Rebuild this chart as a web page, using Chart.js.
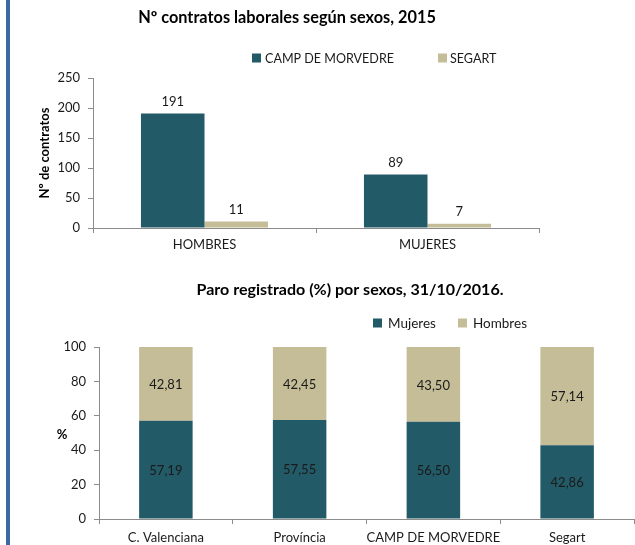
<!DOCTYPE html>
<html>
<head>
<meta charset="utf-8">
<script src="https://cdn.jsdelivr.net/npm/chart.js@4.4.1/dist/chart.umd.min.js"></script>
<style>
  html, body { margin:0; padding:0; background:#ffffff; }
  body { width:635px; height:545px; position:relative; overflow:hidden; }
  #bar { position:absolute; left:6px; top:0; width:4px; height:545px; background:#3c67a3; }
  #c1 { position:absolute; left:0; top:0; }
  #c2 { position:absolute; left:0; top:270px; }
</style>
</head>
<body>
<div id="bar"></div>
<canvas id="c1" width="635" height="270"></canvas>
<canvas id="c2" width="635" height="275"></canvas>
<script>
// ---- Data: chart 1 ----
const topTitle = 'Nº contratos laborales según sexos, 2015';
const topCategories = ['HOMBRES', 'MUJERES'];
const topSeriesNames = ['CAMP DE MORVEDRE', 'SEGART'];
const topCamp = [191, 89];
const topSegart = [11, 7];
const topYTicks = [0, 50, 100, 150, 200, 250];
const topYTitle = 'Nº de contratos';

// ---- Data: chart 2 ----
const botTitle = 'Paro registrado (%) por sexos, 31/10/2016.';
const botCategories = ['C. Valenciana', 'Província', 'CAMP DE MORVEDRE', 'Segart'];
const botSeriesNames = ['Mujeres', 'Hombres'];
const botMujeres = [57.19, 57.55, 56.50, 42.86];
const botHombres = [42.81, 42.45, 43.50, 57.14];
const botYTicks = [0, 20, 40, 60, 80, 100];
const botYTitle = '%';

const TEAL = '#235a67';
const TAN = '#c4bd97';
const AXIS = '#8c8c8c';
const FONT = 'Lato, "Open Sans", sans-serif';
const TXT = '#1a1a1a';

function fitSize(ctx, text, weight, width) {
  ctx.font = weight + ' 100px ' + FONT;
  const w = ctx.measureText(text).width;
  return 100 * width / w;
}

function decorPlugin(cfg) {
  return {
    id: 'decor',
    afterDraw(chart) {
      const ctx = chart.ctx;
      ctx.save();
      // title
      const ts = fitSize(ctx, cfg.title.text, 'bold', cfg.title.width);
      ctx.font = 'bold ' + ts.toFixed(2) + 'px ' + FONT;
      ctx.fillStyle = '#000';
      ctx.textAlign = 'center';
      ctx.textBaseline = 'middle';
      ctx.fillText(cfg.title.text, cfg.title.cx, cfg.title.cy);
      // legend
      const lg = cfg.legend;
      const ls = fitSize(ctx, lg.items[lg.fitIndex].text, 'normal', lg.items[lg.fitIndex].width);
      ctx.font = ls.toFixed(2) + 'px ' + FONT;
      ctx.textAlign = 'left';
      lg.items.forEach(it => {
        ctx.fillStyle = it.color;
        ctx.fillRect(it.sx, lg.cy - lg.box / 2, lg.box, lg.box);
        ctx.fillStyle = TXT;
        ctx.fillText(it.text, it.tx, lg.cy + 1);
      });
      // y axis title
      const yt = cfg.ytitle;
      ctx.font = 'bold 13px ' + FONT;
      ctx.fillStyle = '#000';
      ctx.textAlign = 'center';
      ctx.textBaseline = 'middle';
      if (yt.rotate) {
        ctx.translate(yt.cx, yt.cy);
        ctx.rotate(-Math.PI / 2);
        ctx.fillText(yt.text, 0, 0);
      } else {
        ctx.fillText(yt.text, yt.cx, yt.cy);
      }
      ctx.restore();
    }
  };
}

const labelPlugin = {
  id: 'barLabels',
  afterDatasetsDraw(chart, args, opts) {
    const ctx = chart.ctx;
    ctx.save();
    ctx.font = '13px ' + FONT;
    ctx.fillStyle = TXT;
    ctx.textAlign = 'center';
    chart.data.datasets.forEach((ds, i) => {
      const meta = chart.getDatasetMeta(i);
      meta.data.forEach((el, j) => {
        const v = ds.data[j];
        if (opts.mode === 'top') {
          ctx.textBaseline = 'bottom';
          ctx.fillText(String(v), el.x, el.y - 5);
        } else {
          ctx.textBaseline = 'middle';
          ctx.fillText(v.toFixed(2).replace('.', ','), el.x, (el.y + el.base) / 2 + 1);
        }
      });
    });
    ctx.restore();
  }
};

function yScale(ticksArr, yWidth) {
  return {
    min: ticksArr[0],
    max: ticksArr[ticksArr.length - 1],
    afterBuildTicks(scale) { scale.ticks = ticksArr.map(v => ({ value: v })); },
    afterFit(scale) { scale.width = yWidth; },
    grid: { drawOnChartArea: false, drawTicks: true, tickLength: 5, color: AXIS },
    border: { color: AXIS, width: 1 },
    ticks: { color: TXT, font: { family: FONT, size: 13 }, padding: 8 }
  };
}

function xScale(h, pad, stacked) {
  return {
    stacked: !!stacked,
    afterFit(scale) { scale.height = h; },
    grid: { drawOnChartArea: false, drawTicks: true, tickLength: 5, color: AXIS, offset: true },
    border: { color: AXIS, width: 1 },
    ticks: { color: TXT, font: { family: FONT, size: 13 }, padding: pad, maxRotation: 0, autoSkip: false }
  };
}

// ---- Chart 1 ----
new Chart(document.getElementById('c1'), {
  type: 'bar',
  data: {
    labels: topCategories,
    datasets: [
      { label: topSeriesNames[0], data: topCamp, backgroundColor: TEAL, borderWidth: 0 },
      { label: topSeriesNames[1], data: topSegart, backgroundColor: TAN, borderWidth: 0 }
    ]
  },
  options: {
    responsive: false,
    animation: false,
    layout: { padding: { top: 78, right: 96, left: 0, bottom: 0 } },
    categoryPercentage: 0.57,
    barPercentage: 1.0,
    plugins: { legend: { display: false }, title: { display: false }, tooltip: { enabled: false }, barLabels: { mode: 'top' } },
    scales: {
      x: xScale(42, 4, false),
      y: yScale(topYTicks, 93)
    }
  },
  plugins: [labelPlugin, decorPlugin({
    title: { text: topTitle, cx: 287, cy: 18, width: 298 },
    legend: { cy: 58, box: 9, fitIndex: 0, items: [
      { text: topSeriesNames[0], color: TEAL, sx: 252, tx: 265, width: 129 },
      { text: topSeriesNames[1], color: TAN, sx: 438, tx: 450, width: 45 }
    ] },
    ytitle: { text: topYTitle, cx: 45, cy: 153, rotate: true }
  })]
});

// ---- Chart 2 ----
new Chart(document.getElementById('c2'), {
  type: 'bar',
  data: {
    labels: botCategories,
    datasets: [
      { label: botSeriesNames[0], data: botMujeres, backgroundColor: TEAL, borderWidth: 0 },
      { label: botSeriesNames[1], data: botHombres, backgroundColor: TAN, borderWidth: 0 }
    ]
  },
  options: {
    responsive: false,
    animation: false,
    layout: { padding: { top: 77, right: 1, left: 0, bottom: 0 } },
    categoryPercentage: 0.4,
    barPercentage: 1.0,
    plugins: { legend: { display: false }, title: { display: false }, tooltip: { enabled: false }, barLabels: { mode: 'center' } },
    scales: {
      x: xScale(26, 6, true),
      y: Object.assign(yScale(botYTicks, 99), { stacked: true })
    }
  },
  plugins: [labelPlugin, decorPlugin({
    title: { text: botTitle, cx: 350, cy: 20, width: 307 },
    legend: { cy: 53, box: 9, fitIndex: 1, items: [
      { text: botSeriesNames[0], color: TEAL, sx: 373, tx: 388, width: 49 },
      { text: botSeriesNames[1], color: TAN, sx: 458, tx: 473, width: 54 }
    ] },
    ytitle: { text: botYTitle, cx: 62, cy: 165, rotate: false }
  })]
});
</script>
</body>
</html>
